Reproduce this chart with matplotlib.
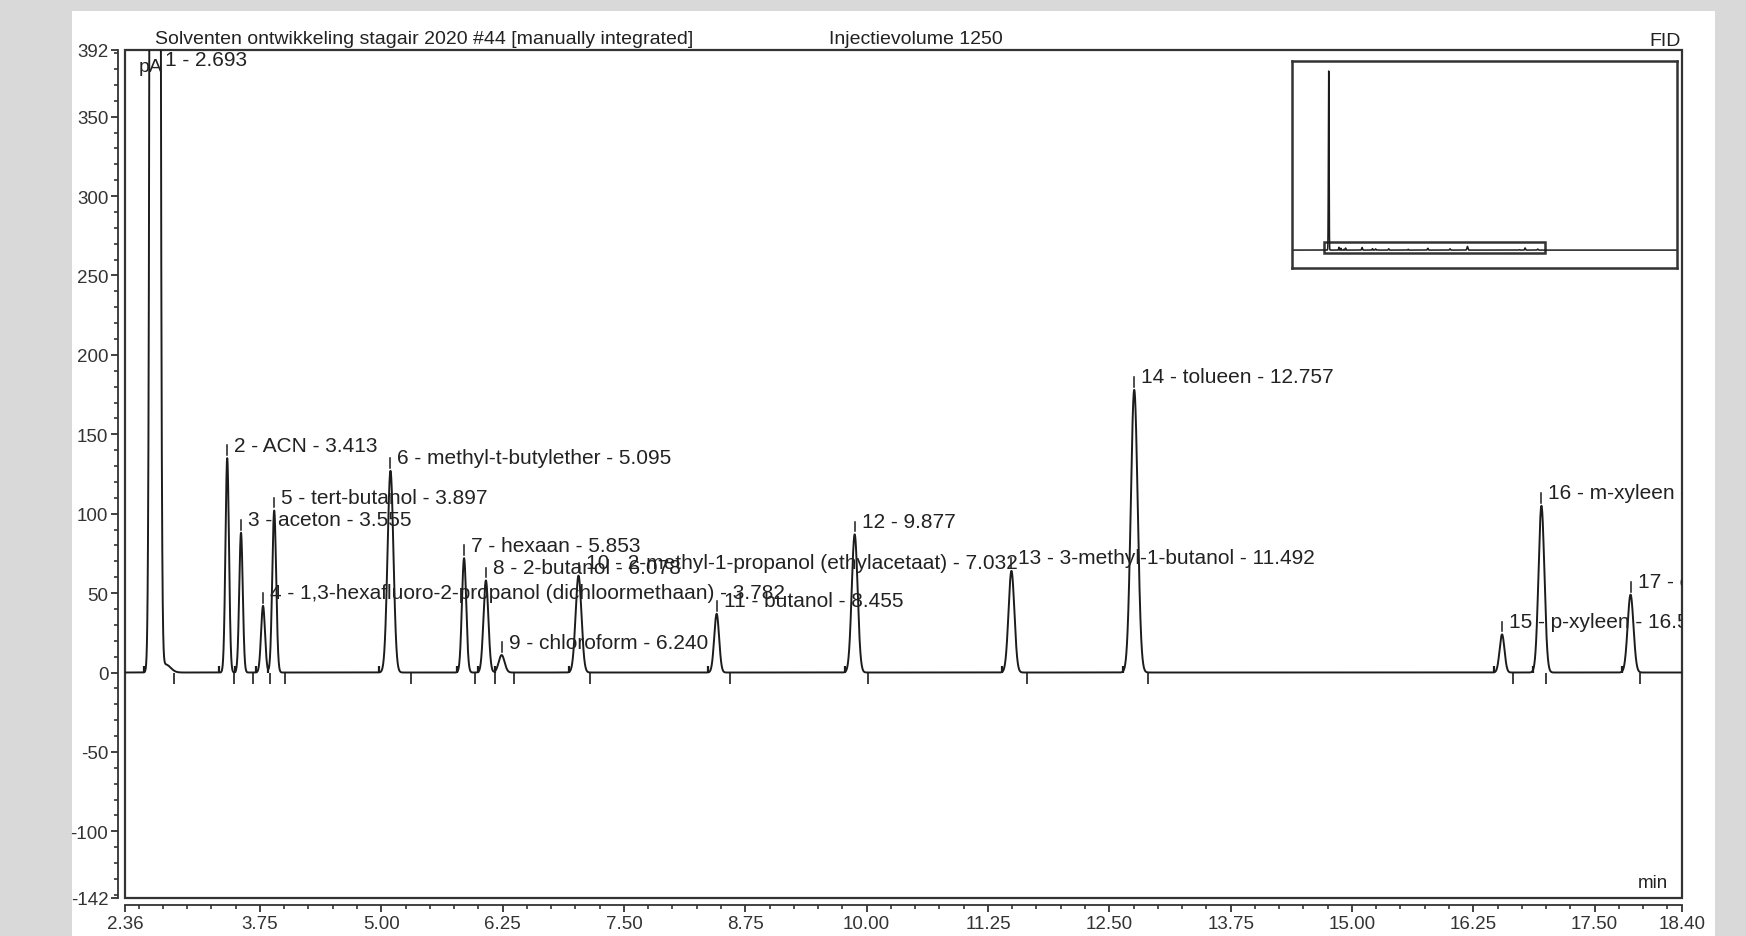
import numpy as np
import matplotlib
matplotlib.use("Agg")
import matplotlib.pyplot as plt
from matplotlib.patches import Rectangle
from matplotlib.ticker import MultipleLocator

plt.rcParams['font.family'] = ['Liberation Sans', 'DejaVu Sans']

W, H = 1746, 937  # output size in pixels (dpi 100)

# peaks: retention time (min), height (pA), width (min)
peak_time = [2.67, 3.413, 3.555, 3.782, 3.897, 5.095, 5.853, 6.078, 6.240, 7.032,
             8.455, 9.877, 11.492, 12.757, 16.546, 16.952, 17.870]
peak_height = [8700, 135, 88, 42, 102, 127, 72, 58, 11, 61, 37, 87, 64, 178, 24, 105, 49]
peak_sigma = [0.024, 0.018, 0.018, 0.02, 0.02, 0.03, 0.022, 0.025, 0.03, 0.03,
              0.025, 0.03, 0.03, 0.035, 0.025, 0.03, 0.03]
peak_label = ["1 - 2.693", "2 - ACN - 3.413", "3 - aceton - 3.555",
              "4 - 1,3-hexafluoro-2-propanol (dichloormethaan) - 3.782",
              "5 - tert-butanol - 3.897", "6 - methyl-t-butylether - 5.095",
              "7 - hexaan - 5.853", "8 - 2-butanol - 6.078", "9 - chloroform - 6.240",
              "10 - 2-methyl-1-propanol (ethylacetaat) - 7.032", "11 - butanol - 8.455",
              "12 - 9.877", "13 - 3-methyl-1-butanol - 11.492", "14 - tolueen - 12.757",
              "15 - p-xyleen - 16.546", "16 - m-xyleen - 16.952", "17 - o-xyleen - 17.870"]
# integration delimiters (min)
peak_start = [2.56, 3.33, 3.49, 3.71, 3.83, 4.98, 5.78, 6.00, 6.17, 6.93,
              8.37, 9.78, 11.39, 12.64, 16.46, 16.87, 17.78]
peak_end = [2.86, 3.48, 3.68, 3.85, 4.01, 5.31, 5.97, 6.17, 6.37, 7.15,
            8.59, 10.01, 11.65, 12.90, 16.66, 17.00, 17.97]
# tailing of the solvent peak
tail_time, tail_height, tail_sigma = 2.78, 5, 0.05

xticks = [2.36, 3.75, 5.00, 6.25, 7.50, 8.75, 10.00, 11.25, 12.50, 13.75, 15.00, 16.25, 17.50, 18.40]
yticks = [392, 350, 300, 250, 200, 150, 100, 50, 0, -50, -100, -142]
xmin, xmax, ymin, ymax = 2.36, 18.40, -142, 392

t = np.linspace(0, 28, 30000)
sig = tail_height * np.exp(-0.5 * ((t - tail_time) / tail_sigma) ** 2)
for rt, h, s in zip(peak_time, peak_height, peak_sigma):
    sig += h * np.exp(-0.5 * ((t - rt) / s) ** 2)

ink = '#1c1c1c'
txt = '#222222'
fig = plt.figure(figsize=(W / 100, H / 100), dpi=100, facecolor='#d9d9d9')
fig.patches.append(Rectangle((72 / W, 0), (1715 - 72) / W, 1 - 12 / H, transform=fig.transFigure,
                             facecolor='white', edgecolor='none', zorder=-10))

ax = fig.add_axes([125 / W, 1 - 899 / H, (1682 - 125) / W, (899 - 51) / H])
ax.plot(t, sig, color=ink, lw=1.4)
ax.set_xlim(xmin, xmax)
ax.set_ylim(ymin, ymax)

for sp in ['top', 'right']:
    ax.spines[sp].set_visible(False)
for sp in ['left', 'bottom']:
    ax.spines[sp].set_position(('outward', 5))
    ax.spines[sp].set_linewidth(1.3)
    ax.spines[sp].set_color('#333333')
ax.add_patch(Rectangle((0, 0), 1, 1, transform=ax.transAxes, fill=False, lw=1.6,
                       ec='#333333', clip_on=False))

ax.set_xticks(xticks)
ax.set_xticklabels(["%.2f" % v for v in xticks])
ax.set_yticks(yticks)
ax.set_yticklabels([str(v) for v in yticks])
ax.xaxis.set_minor_locator(MultipleLocator(0.25))
ax.yaxis.set_minor_locator(MultipleLocator(10))
ax.tick_params(which='major', direction='out', length=5, width=1.3, labelsize=13.5,
               colors='#333333', pad=2)
ax.tick_params(which='minor', direction='out', length=3, width=1.2, colors='#333333')

# integration marks
ax.vlines(peak_end, -7, 0, color=ink, lw=1.2)
ax.vlines(peak_start, 0, 4, color=ink, lw=1.6)

# peak labels
for i, (rt, h, lab) in enumerate(zip(peak_time, peak_height, peak_label)):
    if h > ymax:
        ax.annotate(lab, (rt, ymax), xytext=(10, -10), textcoords='offset pixels',
                    va='center', fontsize=15, color=txt, clip_on=True)
        continue
    ax.plot([rt, rt], [h + 2, h + 8], color=ink, lw=1.1)
    ax.annotate(lab, (rt, h), xytext=(7, 13), textcoords='offset pixels',
                va='center', fontsize=15, color=txt, clip_on=True)

ax.text(0.0085, 0.981, "pA", transform=ax.transAxes, fontsize=14, va='center', color=txt)
ax.text(0.991, 0.018, "min", transform=ax.transAxes, fontsize=13.5, ha='right', va='center',
        color=txt)

# header
fig.text(155 / W, 1 - 39 / H, "Solventen ontwikkeling stagair 2020 #44 [manually integrated]",
         fontsize=14, va='center', color=txt)
fig.text(916 / W, 1 - 40 / H, "Injectievolume 1250", fontsize=14, ha='center', va='center',
         color=txt)
fig.text(1681 / W, 1 - 41 / H, "FID", fontsize=14, ha='right', va='center', color=txt)

# overview inset
ax2 = fig.add_axes([1292 / W, 1 - 269 / H, 385 / W, 207 / H])
ax2.plot(t, sig, color=ink, lw=1.1)
top = sig.max()
ax2.set_xlim(0, 28)
ax2.set_ylim(-0.1 * top, 1.056 * top)
ax2.add_patch(Rectangle((xmin, ymin), xmax - xmin, ymax - ymin, fill=False, lw=1.8, ec='#333333'))
ax2.set_xticks([])
ax2.set_yticks([])
for sp in ax2.spines.values():
    sp.set_linewidth(1.8)
    sp.set_color('#333333')

fig.savefig("out.png", dpi=100, facecolor=fig.get_facecolor())
